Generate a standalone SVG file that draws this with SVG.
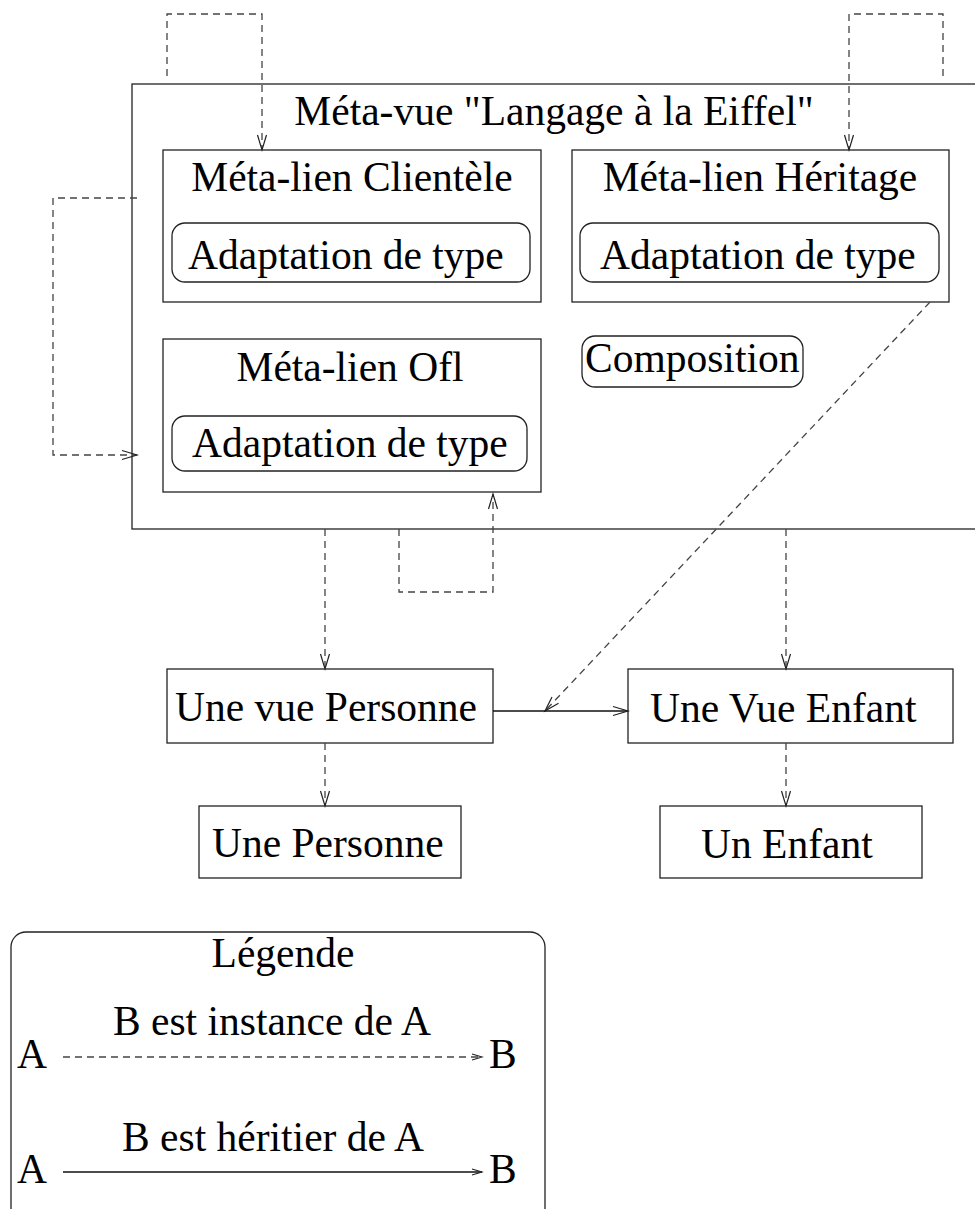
<svg xmlns="http://www.w3.org/2000/svg" width="975" height="1209" viewBox="0 0 975 1209">
<style>
  text { font-family: "Liberation Serif", "Times New Roman", serif; font-size: 41.5px; fill: #000; }
  .box { fill: none; stroke: #222; stroke-width: 1.3; }
  .dash { fill: none; stroke: #444; stroke-width: 1.3; stroke-dasharray: 7,5; }
  .solid { fill: none; stroke: #111; stroke-width: 1.3; }
  .mid { text-anchor: middle; }
</style>
<defs>
  <marker id="arr" markerUnits="userSpaceOnUse" markerWidth="20" markerHeight="14" viewBox="-16 -7 18 14" refX="0" refY="0" orient="auto">
    <path d="M-15,-4.5 L0,0 L-15,4.5" fill="none" stroke="#222" stroke-width="1.2"/>
  </marker>
  <marker id="arrs" markerUnits="userSpaceOnUse" markerWidth="16" markerHeight="10" viewBox="-12 -5 14 10" refX="0" refY="0" orient="auto">
    <path d="M-10,-3 L0,0 L-10,3" fill="none" stroke="#222" stroke-width="1.1"/>
  </marker>
</defs>

<g id="metavue">
  <rect class="box" x="132" y="84" width="900" height="445"/>
  <text class="mid" x="554" y="125">Méta-vue "Langage à la Eiffel"</text>
</g>

<g id="clientele">
  <rect class="box" x="163" y="150" width="378" height="152"/>
  <text class="mid" x="352" y="191">Méta-lien Clientèle</text>
  <rect class="box" x="172" y="223" width="358" height="59" rx="13"/>
  <text x="188" y="269">Adaptation de type</text>
</g>

<g id="heritage">
  <rect class="box" x="572" y="150" width="377" height="152"/>
  <text class="mid" x="760" y="191">Méta-lien Héritage</text>
  <rect class="box" x="580" y="223" width="359" height="59" rx="13"/>
  <text x="600" y="269">Adaptation de type</text>
</g>

<g id="ofl">
  <rect class="box" x="163" y="339" width="378" height="153"/>
  <text class="mid" x="350" y="381">Méta-lien Ofl</text>
  <rect class="box" x="172" y="416" width="355" height="55" rx="13"/>
  <text x="192" y="457">Adaptation de type</text>
</g>

<g id="composition">
  <rect class="box" x="582" y="336" width="221" height="51" rx="13"/>
  <text x="585" y="372">Composition</text>
</g>

<g id="vuepersonne">
  <rect class="box" x="167" y="669" width="326" height="74"/>
  <text x="175" y="721">Une vue Personne</text>
</g>

<g id="personne">
  <rect class="box" x="199" y="806" width="262" height="72"/>
  <text x="212" y="857">Une Personne</text>
</g>

<g id="vueenfant">
  <rect class="box" x="628" y="669" width="325" height="74"/>
  <text x="650" y="722">Une Vue Enfant</text>
</g>

<g id="enfant">
  <rect class="box" x="660" y="806" width="262" height="72"/>
  <text x="701" y="858">Un Enfant</text>
</g>

<g id="connectors">
  <path class="dash" d="M167,76 L167,14 L262,14 L262,150" marker-end="url(#arr)"/>
  <path class="dash" d="M943,76 L943,14 L849,14 L849,150" marker-end="url(#arr)"/>
  <path class="dash" d="M137,198 L53,198 L53,455 L137,455" marker-end="url(#arr)"/>
  <path class="dash" d="M399,529 L399,592 L493,592 L493,494" marker-end="url(#arr)"/>
  <path class="dash" d="M325,529 L325,669" marker-end="url(#arr)"/>
  <path class="dash" d="M786,529 L786,669" marker-end="url(#arr)"/>
  <path class="dash" d="M325,743 L325,806" marker-end="url(#arr)"/>
  <path class="dash" d="M786,743 L786,806" marker-end="url(#arr)"/>
  <path class="dash" d="M930,302 L545,711" marker-end="url(#arr)"/>
  <path class="solid" d="M493,711 L628,711" marker-end="url(#arr)"/>
</g>

<g id="legende">
  <rect class="box" x="11" y="932" width="534" height="300" rx="15"/>
  <text class="mid" x="283" y="967">Légende</text>
  <text class="mid" x="272" y="1035">B est instance de A</text>
  <text x="17" y="1068">A</text>
  <path class="dash" d="M63,1057 L482,1057" marker-end="url(#arrs)"/>
  <text x="489" y="1068">B</text>
  <text class="mid" x="273" y="1151">B est héritier de A</text>
  <text x="17" y="1183">A</text>
  <path class="solid" d="M63,1172 L482,1172" marker-end="url(#arrs)"/>
  <text x="489" y="1183">B</text>
</g>
</svg>
